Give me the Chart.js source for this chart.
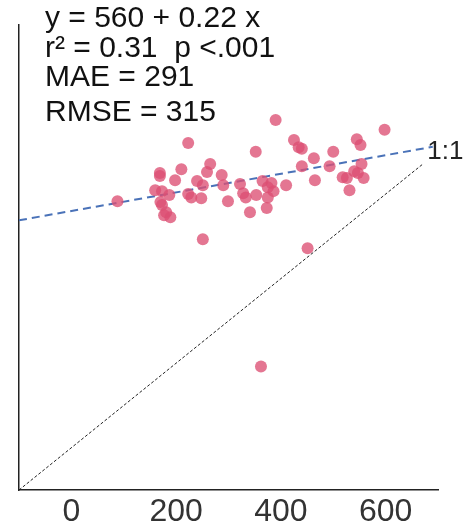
<!DOCTYPE html>
<html>
<head>
<meta charset="utf-8">
<script src="https://cdn.jsdelivr.net/npm/chart.js@4.4.0/dist/chart.umd.min.js"></script>
<style>
    body { margin: 0; background: #fff; }
    #wrap { width: 469px; height: 531px; }
</style>
</head>
<body>
<div id="wrap"><canvas id="myChart"></canvas></div>
<script>
const xVals = [390, 598, 223, 425, 434, 440, 545, 552, 352, 500,
    463, 265, 210, 440, 493, 554, 259, 169, 169, 287,
    540, 547, 518, 526, 558, 465, 198, 240, 251, 290,
    322, 365, 382, 410, 375, 160, 173, 386, 328, 223,
    187, 353, 531, 333, 229, 248, 375, 88, 299, 170,
    173, 373, 341, 177, 189, 181, 251, 451, 362];
const yVals = [775, 752, 721, 728, 711, 707, 730, 716, 700, 700,
    685, 671, 659, 666, 666, 671, 652, 650, 643, 645,
    654, 650, 640, 638, 638, 633, 633, 631, 621, 621,
    624, 631, 626, 621, 616, 609, 607, 607, 602, 600,
    598, 598, 609, 592, 592, 590, 592, 583, 583, 581,
    574, 567, 557, 550, 545, 557, 493, 472, 192];
const xTicks = [0, 200, 400, 600];

// fit line: y = 560 + 0.22 x
const intercept = 560;
const slope = 0.22;
const fitRange = [-100, 690];
const oneToOneRange = [-100, 670];

const statLines = ["y = 560 + 0.22 x", "r\u00b2 = 0.31  p <.001", "MAE = 291", "RMSE = 315"];
const statBaselines = [27, 57, 86, 121];

const points = xVals.map(function (x, i) {
    return { x: x, y: yVals[i] };
});
const fitLine = fitRange.map(function (x) {
    return { x: x, y: intercept + slope * x };
});
const idLine = oneToOneRange.map(function (x) {
    return { x: x, y: x };
});

const textPlugin = {
    id: 'statText',
    afterDraw: function (chart) {
        const c = chart.ctx;
        c.save();
        c.fillStyle = '#111';
        c.font = '30px "Liberation Sans", Arial, sans-serif';
        c.textBaseline = 'alphabetic';
        c.textAlign = 'left';
        statLines.forEach(function (t, i) {
            c.fillText(t, 45, statBaselines[i]);
        });
        // 1:1 label next to end of the identity line
        const xs = chart.scales.x, ys = chart.scales.y;
        c.font = '26px "Liberation Sans", Arial, sans-serif';
        c.fillStyle = '#222';
        c.fillText('1:1', xs.getPixelForValue(oneToOneRange[1]) + 5, ys.getPixelForValue(oneToOneRange[1]) - 6);
        c.restore();
    }
};

const ctx = document.getElementById('myChart');
new Chart(ctx, {
    type: 'scatter',
    data: {
        datasets: [{
            data: idLine,
            type: 'line',
            borderColor: '#222',
            borderWidth: 1,
            borderDash: [3, 2],
            pointRadius: 0,
            fill: false
        }, {
            data: points,
            backgroundColor: 'rgba(220, 80, 115, 0.78)',
            borderWidth: 0,
            pointRadius: 6,
            pointHoverRadius: 6
        }, {
            data: fitLine,
            type: 'line',
            borderColor: '#4a72b8',
            borderWidth: 2,
            borderDash: [8, 5],
            pointRadius: 0,
            fill: false
        }]
    },
    options: {
        responsive: true,
        maintainAspectRatio: false,
        animation: false,
        layout: {
            padding: { left: 11, right: 31, top: 25, bottom: 5 }
        },
        plugins: {
            legend: { display: false },
            tooltip: { enabled: false }
        },
        scales: {
            x: {
                type: 'linear',
                min: -100,
                max: 700,
                afterBuildTicks: function (scale) {
                    scale.ticks = xTicks.map(function (v) { return { value: v }; });
                },
                grid: { display: false },
                border: { display: true, color: '#222', width: 1.5 },
                ticks: {
                    color: '#333',
                    padding: -2,
                    font: { size: 32, lineHeight: 1, family: '"Liberation Sans", Arial, sans-serif' }
                }
            },
            y: {
                type: 'linear',
                min: -100,
                max: 1000,
                grid: { display: false },
                border: { display: true, color: '#222', width: 1.5 },
                ticks: { display: false }
            }
        }
    },
    plugins: [textPlugin]
});
</script>
</body>
</html>
